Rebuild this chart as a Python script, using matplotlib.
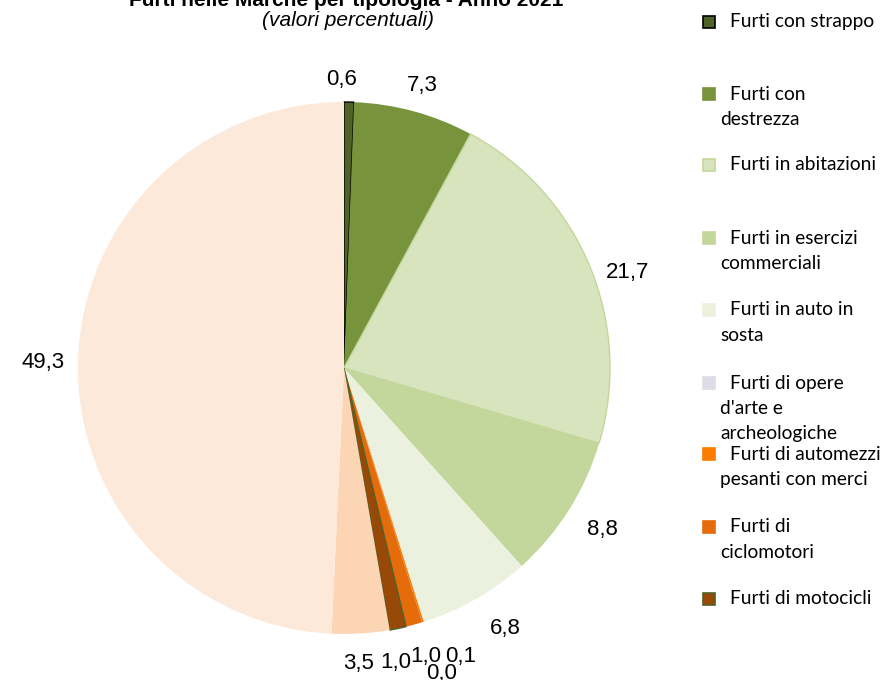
import matplotlib
from matplotlib import pyplot
from matplotlib.patches import Rectangle
import numpy

pyplot.switch_backend("agg")

# data (percent values, clockwise from 12 o'clock)
categories = [
    "Furti con strappo", "Furti con\ndestrezza", "Furti in abitazioni",
    "Furti in esercizi\ncommerciali", "Furti in auto in\nsosta",
    "Furti di opere\nd'arte e\narcheologiche",
    "Furti di automezzi\npesanti con merci", "Furti di\nciclomotori",
    "Furti di motocicli", "Furti di autovetture", "Altri furti",
]
values = [0.6, 7.3, 21.7, 8.8, 6.8, 0.0, 0.1, 1.0, 1.0, 3.5, 49.3]
value_labels = ["0,6", "7,3", "21,7", "8,8", "6,8", "0,0", "0,1", "1,0", "1,0", "3,5", "49,3"]

colors = ["#4f6228", "#77933c", "#d7e4bd", "#c3d69b", "#ebf1de", "#dedce6",
          "#fa7d00", "#e46c0a", "#984807", "#fcd5b5", "#fde9d9"]
edges = ["#000000", None, "#c3d69b", None, None, None, None, None, "#4f6228", None, None]

# pixel nudges (right, down) for the value labels (layout only)
label_nudge = [(-8, 9), (0, 5), (8, 19), (7, 2), (14, 2), (8, 21),
               (28, 4), (3, 1), (-9, 3), (-4, -2), (-3, 2)]
# legend: first-line y position of each entry, in pixels from top (only 9 shown)
legend_y = [22, 94, 165, 238, 310, 383, 454, 527, 599]

W, H = 890, 680
fig = pyplot.figure(figsize=(W / 100, H / 100), dpi=100)

cx, cy, r = 344, 368, 266
ax = fig.add_axes([(cx - r) / W, (H - cy - r) / H, 2 * r / W, 2 * r / H])
wedges, _ = ax.pie(values, colors=colors, startangle=90, counterclock=False,
                   radius=1, wedgeprops=dict(linewidth=0))
for w, ec in zip(wedges, edges):
    if ec:
        w.set_edgecolor(ec)
        w.set_linewidth(1.0)
ax.set_xlim(-1, 1)
ax.set_ylim(-1, 1)
ax.set_aspect("equal")
ax.axis("off")

lab_font = dict(family=["Liberation Sans", "DejaVu Sans"], fontsize=16)
total = sum(values)
cum = 0.0
for i, (v, lab) in enumerate(zip(values, value_labels)):
    mid = (cum + v / 2) / total * 2 * numpy.pi
    cum += v
    x = 1.12 * numpy.sin(mid)
    y = 1.12 * numpy.cos(mid)
    dx, dy = label_nudge[i]
    ax.annotate(lab, (x, y), xytext=(dx * 0.72, -dy * 0.72), textcoords="offset points",
                ha="center", va="center", annotation_clip=False, **lab_font)

# title (cut at the top like the original)
title_font = dict(family=["Liberation Sans", "DejaVu Sans"], fontsize=15)
fig.text(346 / W, 1 - 1 / H, "Furti nelle Marche per tipologia - Anno 2021",
         ha="center", va="center", fontweight="bold", **title_font)
fig.text(348 / W, 1 - 20 / H, "(valori percentuali)", ha="center", va="center",
         style="italic", **title_font)

# legend
leg_font = dict(family=["Lato", "DejaVu Sans"], fontsize=13.8)
for lab, col, ec, y0 in zip(categories, colors, edges, legend_y):
    fig.add_artist(Rectangle(((703) / W, 1 - (y0 + 6) / H), 12 / W, 12 / H,
                             transform=fig.transFigure, facecolor=col,
                             edgecolor=ec if ec else col, linewidth=1.2))
    for j, line in enumerate(lab.split("\n")):
        fig.text((730 if j == 0 else 720) / W, 1 - (y0 + j * 25.5) / H, line,
                 ha="left", va="center", color="black", **leg_font)

fig.savefig("out.png", dpi=100)
